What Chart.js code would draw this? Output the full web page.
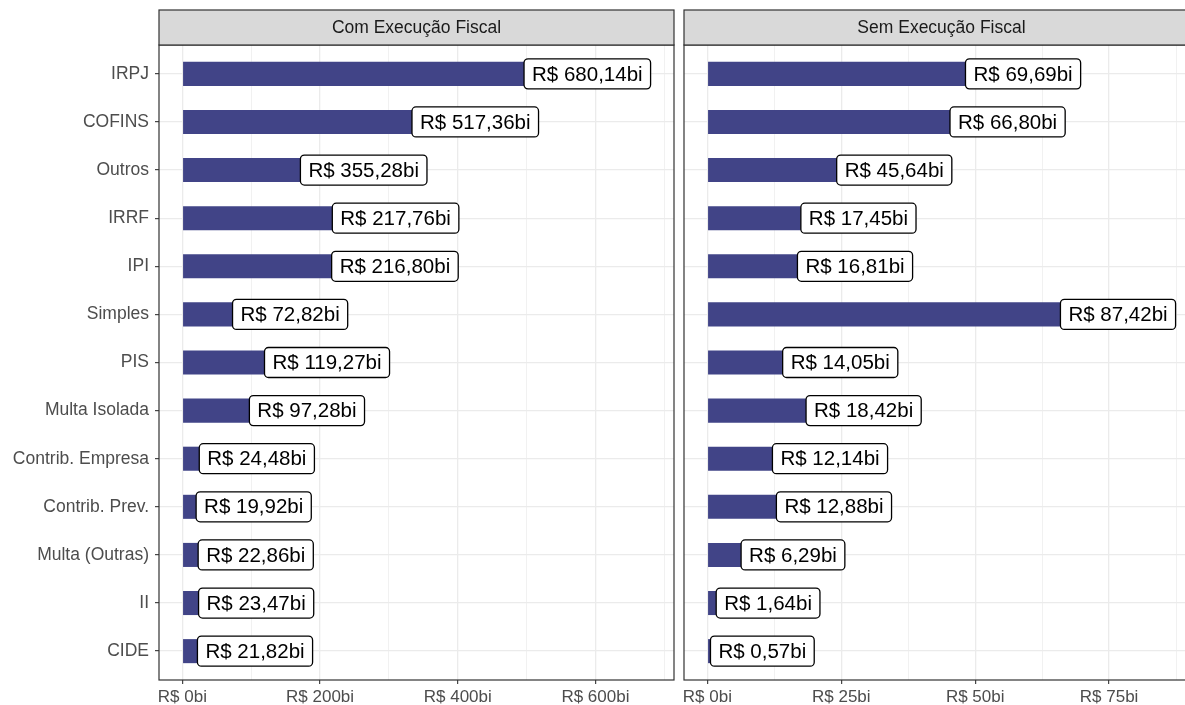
<!DOCTYPE html>
<html>
<head>
<meta charset="utf-8">
<script src="https://cdn.jsdelivr.net/npm/chart.js@4.4.1/dist/chart.umd.min.js"></script>
<style>
  html, body { margin: 0; padding: 0; background: #fff; overflow: hidden; }
  #wrap { position: relative; width: 1185px; height: 705px; overflow: hidden; }
  .painel { position: absolute; top: 0; height: 705px; }
  #painelCom { left: 0; width: 680px; }
  #painelSem { left: 660px; width: 545px; }
</style>
</head>
<body>
<div id="wrap">
  <div class="painel" id="painelCom"><canvas id="chartCom"></canvas></div>
  <div class="painel" id="painelSem"><canvas id="chartSem"></canvas></div>
</div>
<script>
// categorias (de cima para baixo)
const categorias = ['IRPJ', 'COFINS', 'Outros', 'IRRF', 'IPI', 'Simples', 'PIS', 'Multa Isolada',
  'Contrib. Empresa', 'Contrib. Prev.', 'Multa (Outras)', 'II', 'CIDE'];

// valores em R$ bilhões
const comExecucao = [680.14, 517.36, 355.28, 217.76, 216.80, 72.82, 119.27, 97.28, 24.48, 19.92, 22.86, 23.47, 21.82];
const semExecucao = [69.69, 66.80, 45.64, 17.45, 16.81, 87.42, 14.05, 18.42, 12.14, 12.88, 6.29, 1.64, 0.57];

const facetas = ['Com Execução Fiscal', 'Sem Execução Fiscal'];

// ticks do eixo x (principais com rótulo, secundários só com grade)
const ticksCom = [0, 200, 400, 600];
const minorCom = [100, 300, 500, 700];
const ticksSem = [0, 25, 50, 75];
const minorSem = [12.5, 37.5, 62.5, 87.5];

const corBarra = '#414487';
const corGrade = '#EBEBEB';
const fonte = '"Liberation Sans", Arial, sans-serif';

const fmt = v => 'R$ ' + v.toFixed(2).replace('.', ',') + 'bi';

// faixa cinza do facet + borda do painel + rótulos com caixa
const facetPlugin = {
  id: 'facet',
  afterDatasetsDraw(chart, args, opts) {
    const { ctx, chartArea: a, scales } = chart;
    const vals = chart.data.datasets[0].data;
    const maxV = Math.max(...vals.map(d => d.x));
    ctx.save();
    ctx.font = '20.5px ' + fonte;
    vals.forEach(d => {
      const px = scales.x.getPixelForValue(d.x);
      const py = scales.y.getPixelForValue(d.y);
      const txt = fmt(d.x);
      const w = ctx.measureText(txt).width + 16;
      const h = 30;
      // valores grandes ficam com o rótulo por dentro da barra
      const x0 = d.x > maxV / 2 ? px - w : px;
      ctx.beginPath();
      ctx.roundRect(x0, py - h / 2, w, h, 4);
      ctx.fillStyle = '#fff';
      ctx.fill();
      ctx.lineWidth = 1.3;
      ctx.strokeStyle = '#000';
      ctx.stroke();
      ctx.fillStyle = '#000';
      ctx.textBaseline = 'middle';
      ctx.textAlign = 'left';
      ctx.fillText(txt, x0 + 8, py + 1);
    });
    ctx.restore();
  },
  afterDraw(chart, args, opts) {
    const { ctx, chartArea: a } = chart;
    ctx.save();
    ctx.lineWidth = 1.2;
    ctx.strokeStyle = '#333333';
    ctx.strokeRect(a.left, a.top, a.right - a.left, a.bottom - a.top);
    // strip
    const top = a.top - 35;
    ctx.fillStyle = '#D9D9D9';
    ctx.fillRect(a.left, top, a.right - a.left, 35);
    ctx.strokeRect(a.left, top, a.right - a.left, 35);
    ctx.fillStyle = '#1A1A1A';
    ctx.font = '17.5px ' + fonte;
    ctx.textAlign = 'center';
    ctx.textBaseline = 'middle';
    ctx.fillText(opts.titulo, (a.left + a.right) / 2, top + 18);
    ctx.restore();
  }
};

function montar(id, valores, titulo, major, minor, mostrarY, larguraY) {
  const todos = major.concat(minor).sort((a, b) => a - b);
  const maxV = Math.max(...valores);
  return new Chart(document.getElementById(id), {
    type: 'bar',
    data: {
      datasets: [{
        data: valores.map((v, i) => ({ x: v, y: i })),
        backgroundColor: corBarra,
        borderWidth: 0,
        categoryPercentage: 1,
        barPercentage: 0.5
      }]
    },
    options: {
      indexAxis: 'y',
      responsive: true,
      maintainAspectRatio: false,
      animation: false,
      layout: { padding: { top: 45, right: 6, left: 0, bottom: 0 } },
      plugins: {
        legend: { display: false },
        tooltip: { enabled: false },
        facet: { titulo: titulo }
      },
      scales: {
        x: {
          type: 'linear',
          min: -maxV * 0.05,
          max: maxV * 1.05,
          afterBuildTicks: s => { s.ticks = todos.map(v => ({ value: v })); },
          afterFit: s => { s.height = 25; },
          border: { display: false },
          grid: {
            color: corGrade,
            lineWidth: c => major.includes(c.tick.value) ? 1.3 : 0.7,
            tickColor: c => major.includes(c.tick.value) ? '#333333' : 'rgba(0,0,0,0)',
            tickLength: 4,
            tickWidth: 1.1
          },
          ticks: {
            autoSkip: false,
            maxRotation: 0,
            padding: 3,
            color: '#4D4D4D',
            font: { family: fonte, size: 17 },
            callback: v => major.includes(v) ? 'R$ ' + v + 'bi' : ''
          }
        },
        y: {
          type: 'linear',
          reverse: true,
          offset: false,
          min: -0.6,
          max: categorias.length - 0.4,
          afterBuildTicks: s => { s.ticks = categorias.map((c, i) => ({ value: i })); },
          afterFit: s => { s.width = larguraY; },
          border: { display: false },
          grid: {
            offset: false,
            color: corGrade,
            lineWidth: 1.3,
            drawTicks: mostrarY,
            tickColor: '#333333',
            tickLength: 4,
            tickWidth: 1.1
          },
          ticks: {
            display: mostrarY,
            padding: 6,
            color: '#4D4D4D',
            font: { family: fonte, size: 17.5 },
            callback: v => categorias[v]
          }
        }
      }
    },
    plugins: [facetPlugin]
  });
}

montar('chartCom', comExecucao, facetas[0], ticksCom, minorCom, true, 159);
montar('chartSem', semExecucao, facetas[1], ticksSem, minorSem, false, 24);
</script>
</body>
</html>
